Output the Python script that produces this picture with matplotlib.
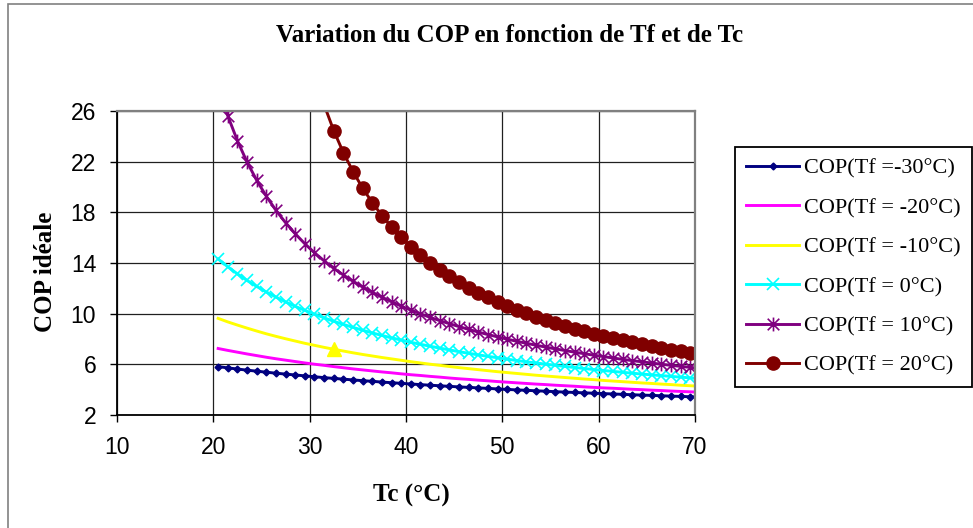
import numpy as np
import matplotlib
matplotlib.use('Agg')
import matplotlib.pyplot as plt
from matplotlib.path import Path
from matplotlib.patches import Rectangle

# Tc (degC) and COP ideal values, one list per Tf
tc = [20.5, 21.5, 22.5, 23.5, 24.5, 25.5, 26.5, 27.5, 28.5, 29.5,
      30.5, 31.5, 32.5, 33.5, 34.5, 35.5, 36.5, 37.5, 38.5, 39.5,
      40.5, 41.5, 42.5, 43.5, 44.5, 45.5, 46.5, 47.5, 48.5, 49.5,
      50.5, 51.5, 52.5, 53.5, 54.5, 55.5, 56.5, 57.5, 58.5, 59.5,
      60.5, 61.5, 62.5, 63.5, 64.5, 65.5, 66.5, 67.5, 68.5, 69.5,
      70.5]
cop_m30 = [5.82, 5.72, 5.63, 5.54, 5.46, 5.38, 5.30, 5.23, 5.16, 5.09,
           5.02, 4.95, 4.89, 4.83, 4.77, 4.71, 4.66, 4.60, 4.55, 4.50,
           4.45, 4.40, 4.35, 4.31, 4.26, 4.22, 4.18, 4.14, 4.10, 4.06,
           4.02, 3.98, 3.95, 3.91, 3.88, 3.84, 3.81, 3.78, 3.75, 3.72,
           3.69, 3.66, 3.63, 3.60, 3.57, 3.55, 3.52, 3.49, 3.47, 3.44,
           3.42]
cop_m20 = [7.25, 7.10, 6.96, 6.82, 6.69, 6.56, 6.44, 6.33, 6.22, 6.11,
           6.01, 5.92, 5.82, 5.73, 5.64, 5.56, 5.48, 5.40, 5.33, 5.25,
           5.18, 5.12, 5.05, 4.99, 4.92, 4.86, 4.81, 4.75, 4.70, 4.64,
           4.59, 4.54, 4.49, 4.44, 4.40, 4.35, 4.31, 4.27, 4.22, 4.18,
           4.14, 4.11, 4.07, 4.03, 4.00, 3.96, 3.93, 3.89, 3.86, 3.83,
           3.80]
cop_m10 = [9.63, 9.35, 9.10, 8.86, 8.63, 8.41, 8.21, 8.02, 7.84, 7.66,
           7.50, 7.34, 7.19, 7.05, 6.91, 6.78, 6.66, 6.54, 6.43, 6.32,
           6.21, 6.11, 6.01, 5.92, 5.83, 5.74, 5.66, 5.58, 5.50, 5.42,
           5.35, 5.28, 5.21, 5.14, 5.08, 5.02, 4.96, 4.90, 4.84, 4.79,
           4.73, 4.68, 4.63, 4.58, 4.53, 4.49, 4.44, 4.40, 4.35, 4.31,
           4.27]
cop_0 = [14.32, 13.70, 13.14, 12.62, 12.15, 11.71, 11.31, 10.93, 10.58, 10.26,
         9.96, 9.67, 9.40, 9.15, 8.92, 8.69, 8.48, 8.28, 8.09, 7.92,
         7.74, 7.58, 7.43, 7.28, 7.14, 7.00, 6.87, 6.75, 6.63, 6.52,
         6.41, 6.30, 6.20, 6.11, 6.01, 5.92, 5.83, 5.75, 5.67, 5.59,
         5.51, 5.44, 5.37, 5.30, 5.23, 5.17, 5.11, 5.05, 4.99, 4.93,
         4.87]
cop_10 = [27.97, 25.62, 23.65, 21.97, 20.53, 19.27, 18.16, 17.18, 16.31, 15.52,
          14.81, 14.17, 13.58, 13.05, 12.56, 12.10, 11.69, 11.30, 10.94, 10.60,
          10.28, 9.99, 9.71, 9.45, 9.21, 8.98, 8.76, 8.55, 8.35, 8.17,
          7.99, 7.82, 7.66, 7.51, 7.36, 7.22, 7.09, 6.96, 6.84, 6.72,
          6.61, 6.50, 6.39, 6.29, 6.20, 6.10, 6.01, 5.92, 5.84, 5.76,
          5.68]
cop_20 = [np.nan, np.nan, np.nan, np.nan, np.nan, np.nan, np.nan, np.nan, np.nan, np.nan,
          np.nan, 26.49, 24.45, 22.71, 21.22, 19.91, 18.77, 17.75, 16.85, 16.03,
          15.30, 14.63, 14.03, 13.47, 12.97, 12.50, 12.06, 11.66, 11.29, 10.94,
          10.61, 10.31, 10.02, 9.75, 9.50, 9.26, 9.03, 8.82, 8.61, 8.42,
          8.24, 8.06, 7.90, 7.74, 7.59, 7.44, 7.30, 7.17, 7.04, 6.92,
          6.80]
labels = ['COP(Tf =-30°C)', 'COP(Tf = -20°C)', 'COP(Tf = -10°C)',
          'COP(Tf = 0°C)', 'COP(Tf = 10°C)', 'COP(Tf = 20°C)']
highlight = 12  # the single triangle on the -10°C curve (Tc = 32.5)

serif = 'Liberation Serif'
sans = 'Liberation Sans'

# excel-like star marker (x with a vertical bar)
star = Path([(-1, -1), (1, 1), (-1, 1), (1, -1), (0, -1.2), (0, 1.2)],
            [Path.MOVETO, Path.LINETO, Path.MOVETO, Path.LINETO, Path.MOVETO, Path.LINETO])

x = np.array(tc)
xmin, xmax, ymin, ymax = 10, 70, 2, 26


def inside(y):
    y = np.array(y)
    return list((x <= xmax) & (y <= ymax))


fig = plt.figure(figsize=(9.73, 5.28), dpi=100)
ax = fig.add_axes([117 / 973, 1 - 415 / 528, (695 - 117) / 973, (415 - 111) / 528])

series = [
    (cop_m30, dict(color='#000080', marker='D', ms=3.5)),
    (cop_m20, dict(color='#FF00FF', marker='None')),
    (cop_m10, dict(color='#FFFF00', marker='None')),
    (cop_0, dict(color='#00FFFF', marker='x', ms=9, mew=1.2)),
    (cop_10, dict(color='#800080', marker=star, ms=10, mew=1.2)),
    (cop_20, dict(color='#800000', marker='o', ms=9.5)),
]
handles = []
for (y, style), lab in zip(series, labels):
    h, = ax.plot(x, y, lw=2.1, label=lab, markevery=inside(y), **style)
    handles.append(h)
    if lab == labels[2]:
        ax.plot(x[highlight], y[highlight], marker='^', ms=10, color='#FFFF00', ls='None')

ax.set_xlim(xmin, xmax)
ax.set_ylim(ymin, ymax)
ax.set_xticks(np.arange(10, 71, 10))
ax.set_yticks(np.arange(2, 27, 4))
ax.grid(True, color='#202020', lw=0.9)
ax.set_axisbelow(True)
ax.tick_params(direction='out', length=5, width=1, pad=10, labelsize=16.5)
for lab in ax.get_xticklabels() + ax.get_yticklabels():
    lab.set_fontfamily(sans)
for side in ['left', 'bottom']:
    ax.spines[side].set_color('black')
    ax.spines[side].set_linewidth(1.3)
for side in ['top', 'right']:
    ax.spines[side].set_color('#808080')
    ax.spines[side].set_linewidth(1.6)

fig.text(510 / 973, 1 - 42 / 528, 'Variation du COP en fonction de Tf et de Tc',
         ha='center', va='baseline', family=serif, weight='bold', size=18)
fig.text(411 / 973, 1 - 502 / 528, 'Tc (°C)', ha='center', va='baseline',
         family=serif, weight='bold', size=18)
fig.text(45 / 973, 1 - 272 / 528, 'COP idéale', ha='center', va='center', rotation=90,
         family=serif, weight='bold', size=18)

leg = fig.legend(handles, labels, loc='upper left', bbox_to_anchor=(735 / 973, 1 - 147 / 528),
                 bbox_transform=fig.transFigure, borderaxespad=0, prop={'family': serif, 'size': 16},
                 handlelength=2.4, handletextpad=0.22, labelspacing=0.85, borderpad=0.5,
                 fancybox=False, framealpha=1, edgecolor='black')
leg.get_frame().set_linewidth(1.3)

# grey outer chart border (runs off the right and bottom edges)
fig.patches.append(Rectangle((8 / 973, -0.1), 1.2, 1.1 - 4 / 528, transform=fig.transFigure,
                             fill=False, edgecolor='#808080', lw=1.2))

fig.savefig('out.png', dpi=100)
